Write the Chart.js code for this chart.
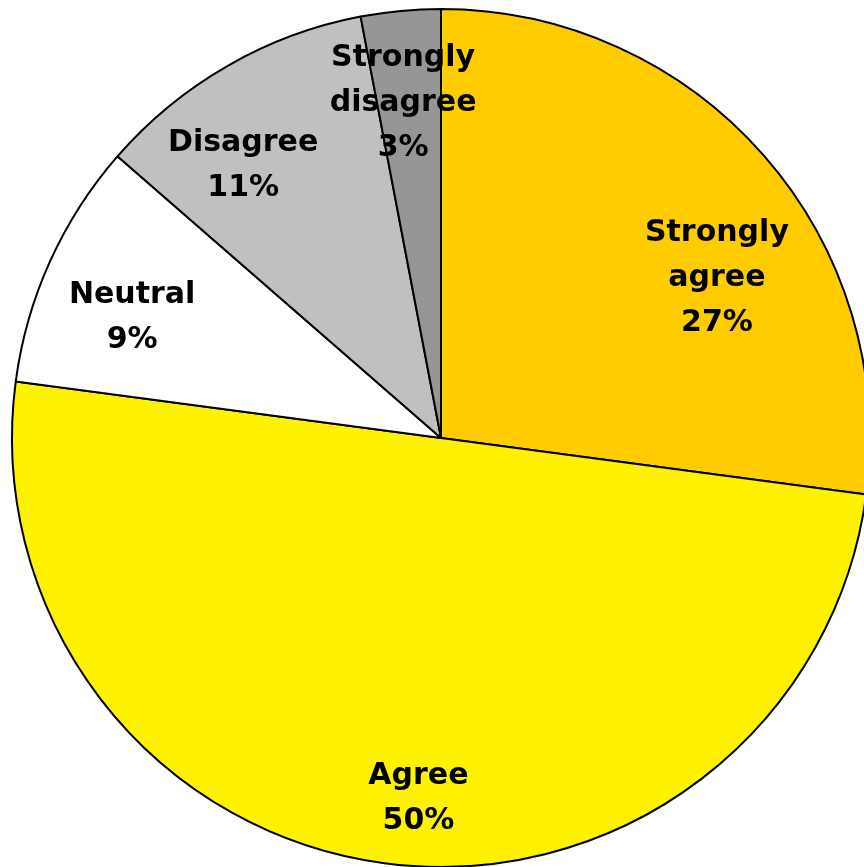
<!DOCTYPE html>
<html>
<head>
<meta charset="utf-8">
<script src="https://cdn.jsdelivr.net/npm/chart.js"></script>
<style>
  html, body { margin: 0; padding: 0; background: #fff; overflow: hidden; }
  #wrap { position: relative; width: 882px; height: 876px; }
</style>
</head>
<body>
<div id="wrap"><canvas id="pieChart"></canvas></div>
<script>
const categories = ['Strongly agree', 'Agree', 'Neutral', 'Disagree', 'Strongly disagree'];
const labelLines = [['Strongly', 'agree'], ['Agree'], ['Neutral'], ['Disagree'], ['Strongly', 'disagree']];
const shares = [27.1, 50, 9.3, 10.6, 3];
const sliceColors = ['#FFCC00', '#FFF200', '#FFFFFF', '#C0C0C0', '#969696'];

// nudges so the labels sit where the original placed them
const labelNudge = [[21, 64], [22, 25], [0, 19], [-29, 22], [-6, 3]];

const sliceLabels = {
  id: 'sliceLabels',
  afterDatasetsDraw(chart) {
    const ctx = chart.ctx;
    const meta = chart.getDatasetMeta(0);
    const total = shares.reduce((a, b) => a + b, 0);
    ctx.save();
    ctx.fillStyle = '#000';
    ctx.font = 'bold 30px "DejaVu Sans", sans-serif';
    ctx.textAlign = 'center';
    ctx.textBaseline = 'middle';
    meta.data.forEach((arc, i) => {
      const mid = (arc.startAngle + arc.endAngle) / 2;
      const r = arc.outerRadius * 0.79;
      const x = arc.x + Math.cos(mid) * r + labelNudge[i][0];
      const y = arc.y + Math.sin(mid) * r + labelNudge[i][1];
      const lines = labelLines[i].concat([Math.round(shares[i] / total * 100) + '%']);
      const lh = 45;
      lines.forEach((t, k) => {
        ctx.fillText(t, x, y + (k - (lines.length - 1) / 2) * lh);
      });
    });
    ctx.restore();
  }
};

new Chart(document.getElementById('pieChart'), {
  type: 'pie',
  data: {
    labels: categories,
    datasets: [{
      data: shares,
      backgroundColor: sliceColors,
      borderColor: '#000000',
      borderWidth: 2
    }]
  },
  options: {
    responsive: true,
    maintainAspectRatio: false,
    animation: false,
    layout: { padding: 8 },
    plugins: {
      legend: { display: false },
      tooltip: { enabled: false }
    }
  },
  plugins: [sliceLabels]
});
</script>
</body>
</html>
